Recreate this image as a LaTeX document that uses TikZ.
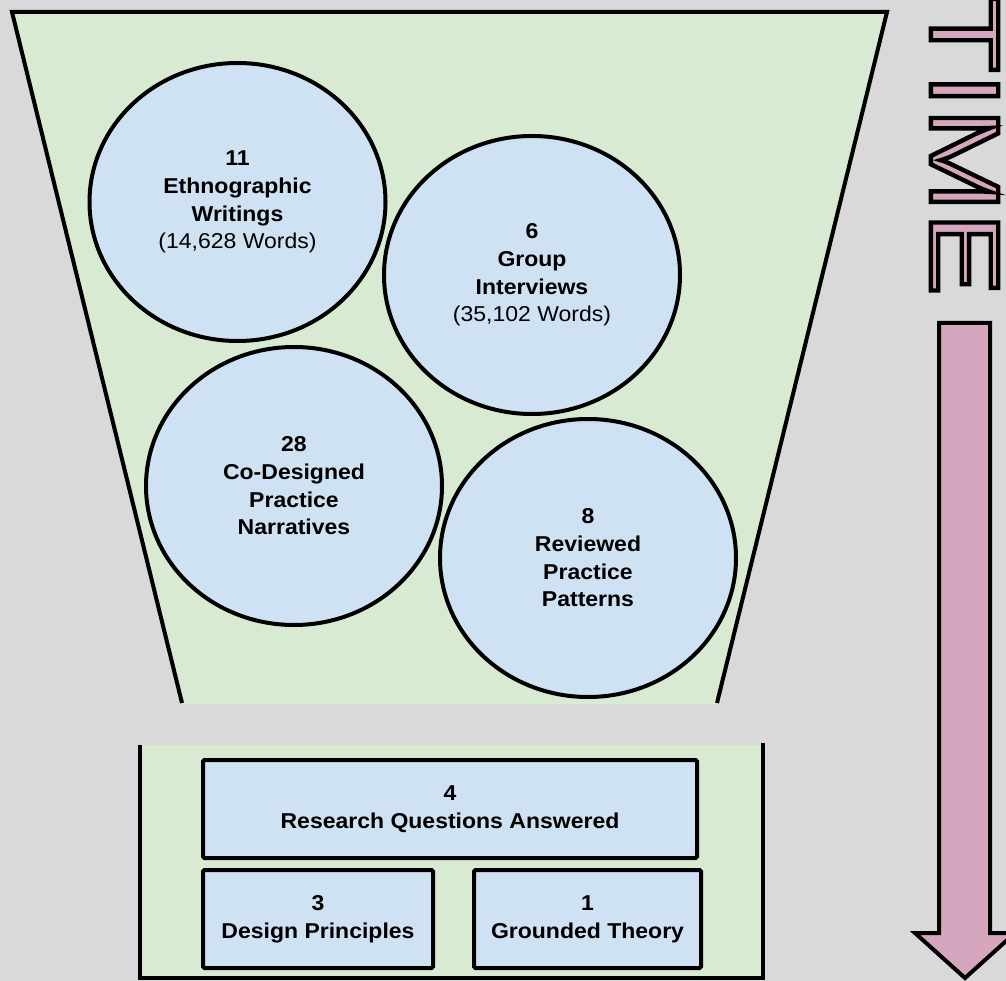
\documentclass[tikz,border=0pt]{standalone}
\usepackage{fontspec}
\setmainfont{Liberation Sans}
\newfontfamily\lblfont[FakeStretch=1.07]{Liberation Sans}
\newfontfamily\timefont[FakeStretch=1.28,FakeBold=4.5]{Liberation Sans}
\usetikzlibrary{shapes.geometric}
\definecolor{bggray}{HTML}{D9D9D9}
\definecolor{funnelgreen}{HTML}{D9EAD3}
\definecolor{bubbleblue}{HTML}{CFE2F3}
\definecolor{timepink}{HTML}{D5A6BD}
% pink glyphs with a black outline (fill colour, stroke colour)
\newcommand{\pinkoutline}[1]{\special{pdf:bcolor [0.835 0.651 0.741] [0 0 0]}#1\special{pdf:ecolor}}
\tikzset{
  label font/.style={font=\lblfont\bfseries\fontsize{21.5}{27.7}\selectfont, align=center},
  bubble/.style={ellipse, draw=black, line width=4pt, fill=bubbleblue,
    minimum width=296pt, minimum height=278pt, inner sep=0pt, label font},
  resultbox/.style={rectangle, draw=black, line width=4pt, fill=bubbleblue,
    rounded corners=1.5pt, inner sep=0pt, label font},
  rim/.style={draw=black, line width=4pt},
}
\begin{document}
\begin{tikzpicture}[x=1pt, y=-1pt]
  % canvas
  \fill[bggray] (0,0) rectangle (1006,981);
  \useasboundingbox (0,0) rectangle (1006,981);

  % funnel: filled trapezoid, open at the bottom
  \fill[funnelgreen] (12,12) -- (887,12) -- (717,704) -- (182,704) -- cycle;
  \draw[rim, line join=miter] (182,703) -- (12,12) -- (887,12) -- (717,703);

  % data sources
  \node[bubble] (eth) at (237.5,202) {11\\Ethnographic\\Writings\\{\mdseries (14,628 Words)}};
  \node[bubble] (grp) at (532,275) {6\\Group\\Interviews\\{\mdseries (35,102 Words)}};
  \node[bubble] (cod) at (294,486) {28\\Co-Designed\\Practice\\Narratives};
  \node[bubble] (rev) at (588,558) {8\\Reviewed\\Practice\\Patterns};

  % outcome tray, open at the top
  \fill[funnelgreen] (140,745) rectangle (763,978);
  \draw[rim, line width=3.5pt, line join=miter] (140,745) -- (140,978) -- (763,978) -- (763,743);

  \node[resultbox, minimum width=494pt, minimum height=98pt] (rq) at (450,809) {4\\Research Questions Answered};
  \node[resultbox, minimum width=230pt, minimum height=98pt] (dp) at (318,919) {3\\Design Principles};
  \node[resultbox, minimum width=227pt, minimum height=98pt] (gt) at (587.5,919) {1\\Grounded Theory};

  % time label and arrow
  \node[rotate=-90, inner sep=0pt, font=\timefont\fontsize{98}{98}\selectfont] (time) at (964.5,146) {\pinkoutline{TIME}};
  \draw[line width=4pt, fill=timepink, line join=miter]
    (939,323) -- (990,323) -- (990,933) -- (1015,933) -- (965,978) -- (915,933) -- (939,933) -- cycle;
\end{tikzpicture}
\end{document}
